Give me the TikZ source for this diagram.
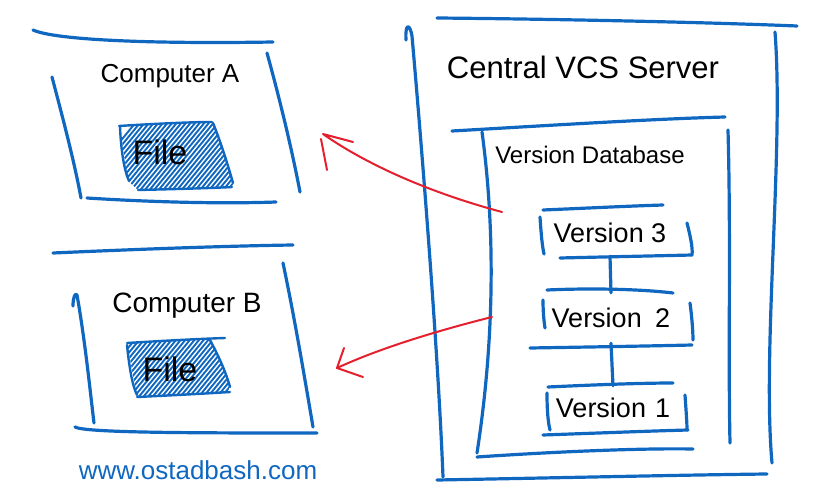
\documentclass[tikz,border=0pt]{standalone}
\usepackage{fontspec}
\setmainfont{Liberation Sans}
\usetikzlibrary{calc}
\definecolor{skblue}{HTML}{1067C0}
\definecolor{skred}{HTML}{E5202E}
\begin{document}
\begin{tikzpicture}[x=1pt,y=-1pt,
  sk/.style={draw=skblue,line width=3.2pt,line cap=round,line join=round},
  skfile/.style={draw=skblue,line width=2.4pt,line cap=round,line join=round},
  hatchline/.style={draw=skblue,line width=1.9pt},
  redline/.style={draw=skred,line width=2pt,line cap=round,line join=round},
  lbl/.style={inner sep=0pt,text=black},
  vbox/.style={inner sep=0pt,draw=none,minimum width=145pt}]
\useasboundingbox (0,0) rectangle (830,500);

% ---------- Computer A ----------
\draw[sk] (33,30) .. controls (55,40) and (150,44) .. (273,42);
\draw[sk] (52,77) .. controls (62,115) and (74,160) .. (81,198);
\draw[sk] (267,53) .. controls (280,100) and (292,150) .. (300,192);
\draw[sk] (87,198) .. controls (150,202) and (220,204) .. (276,202);
\node[lbl,font=\fontsize{26}{26}\selectfont] (compA) at (170,76) {Computer A};
% file A
\begin{scope}
  \clip (119,125) -- (213,121) -- (233,185) -- (230,188) -- (138,190) -- (128,181) -- (120,128) -- cycle;
  \foreach \i in {0,4.6,...,240} \draw[hatchline] (60+\i,215) -- ++(90,-110);
\end{scope}
\draw[skfile] (119,126) .. controls (150,124) and (190,122) .. (212,122);
\draw[skfile] (120,127) .. controls (121,150) and (124,170) .. (129,181);
\draw[skfile] (213,123) .. controls (220,140) and (228,165) .. (233,183);
\draw[skfile] (138,190) .. controls (180,189) and (215,188) .. (232,187);
\node[lbl,font=\fontsize{34}{34}\selectfont] (fileA) at (160,152) {File};

% ---------- Computer B ----------
\draw[sk] (53,253) .. controls (120,250) and (220,246) .. (293,245);
\draw[sk] (73,306) .. controls (73,298) and (75,292) .. (77,295) .. controls (85,340) and (90,390) .. (94,423);
\draw[sk] (283,263) .. controls (295,320) and (305,380) .. (313,427);
\draw[sk] (75,427) .. controls (85,433) and (200,433) .. (317,433);
\node[lbl,font=\fontsize{28}{28}\selectfont] (compB) at (187,306) {Computer B};
% file B
\begin{scope}
  \clip (127,343) -- (210,339) -- (230,385) -- (228,392) -- (137,397) -- cycle;
  \foreach \i in {0,4.6,...,240} \draw[hatchline] (60+\i,420) -- ++(90,-110);
\end{scope}
\draw[skfile] (127,343) .. controls (160,341) and (195,339) .. (225,338);
\draw[skfile] (127,345) .. controls (129,365) and (132,385) .. (137,395);
\draw[skfile] (210,340) .. controls (218,355) and (226,372) .. (230,387);
\draw[skfile] (137,397) .. controls (180,395) and (215,393) .. (230,392);
\node[lbl,font=\fontsize{34}{34}\selectfont] (fileB) at (170,369) {File};

\node[lbl,text=skblue,font=\fontsize{26}{26}\selectfont] (url) at (198,470) {www.ostadbash.com};

% ---------- Central VCS Server ----------
\draw[sk] (437,18) .. controls (550,19) and (700,22) .. (797,26);
\draw[sk] (406,40) .. controls (405,22) and (410,24) .. (412,36) .. controls (422,150) and (438,350) .. (443,477);
\draw[sk] (775,32) .. controls (784,150) and (762,350) .. (772,463);
\draw[sk] (437,480) .. controls (550,478) and (680,475) .. (767,474);
\node[lbl,font=\fontsize{31}{31}\selectfont] (server) at (583,67) {Central VCS Server};

% ---------- Version Database ----------
\draw[sk] (452,131) .. controls (540,126) and (650,119) .. (725,117);
\draw[sk] (482,132) .. controls (494,220) and (496,330) .. (477,453);
\draw[sk] (728,130) .. controls (731,240) and (728,350) .. (730,443);
\draw[sk] (477,457) .. controls (550,452) and (640,448) .. (693,449);
\node[lbl,font=\fontsize{24}{24}\selectfont] (db) at (590,155) {Version Database};

% ---------- Versions ----------
\node[vbox,minimum height=46pt] (v3) at (610,233) {};
\node[lbl,font=\fontsize{27}{27}\selectfont] (v3t) at (v3) {Version 3};
\draw[sk] (543,210) .. controls (590,208) and (630,206) .. (663,205);
\draw[sk] (540,217) .. controls (541,232) and (542,245) .. (544,254);
\draw[sk] (687,223) .. controls (690,235) and (693,248) .. (692,255);
\draw[sk] (560,258) .. controls (600,257) and (650,256) .. (692,255);

\node[vbox,minimum height=50pt] (v2) at (611,318) {};
\node[lbl,font=\fontsize{27}{27}\selectfont] (v2t) at (v2) {Version\,\,\,2};
\draw[sk] (547,290) .. controls (590,288) and (640,289) .. (673,293);
\draw[sk] (543,300) .. controls (543,312) and (544,322) .. (545,328);
\draw[sk] (690,303) .. controls (692,318) and (693,332) .. (693,340);
\draw[sk] (530,348) .. controls (590,347) and (650,346) .. (692,345);

\node[vbox,minimum height=44pt] (v1) at (613,408) {};
\node[lbl,font=\fontsize{27}{27}\selectfont] (v1t) at (v1) {Version\,\,1};
\draw[sk] (548,387) .. controls (590,385) and (640,383) .. (673,383);
\draw[sk] (547,393) .. controls (547,410) and (548,422) .. (550,430);
\draw[sk] (685,395) .. controls (686,410) and (687,422) .. (687,430);
\draw[sk] (543,435) .. controls (600,433) and (650,431) .. (688,430);

\draw[sk] (v3.south) -- (v2.north);
\draw[sk] (v2.south) -- (v1.north);

% ---------- red arrows ----------
\coordinate (dbA) at (502,212);
\coordinate (tipA) at (323,134);
\coordinate (dbB) at (492,317);
\coordinate (tipB) at (337,368);
\draw[redline] (dbA) .. controls (420,190) and (360,160) .. (tipA) -- ++(30,8);
\draw[redline] ($(tipA)+(-2,5)$) -- ++(6,31);
\draw[redline] (dbB) .. controls (440,330) and (380,348) .. (tipB);
\draw[redline] ($(tipB)+(7,-20)$) -- (tipB) -- ++(26,9);
\end{tikzpicture}
\end{document}
